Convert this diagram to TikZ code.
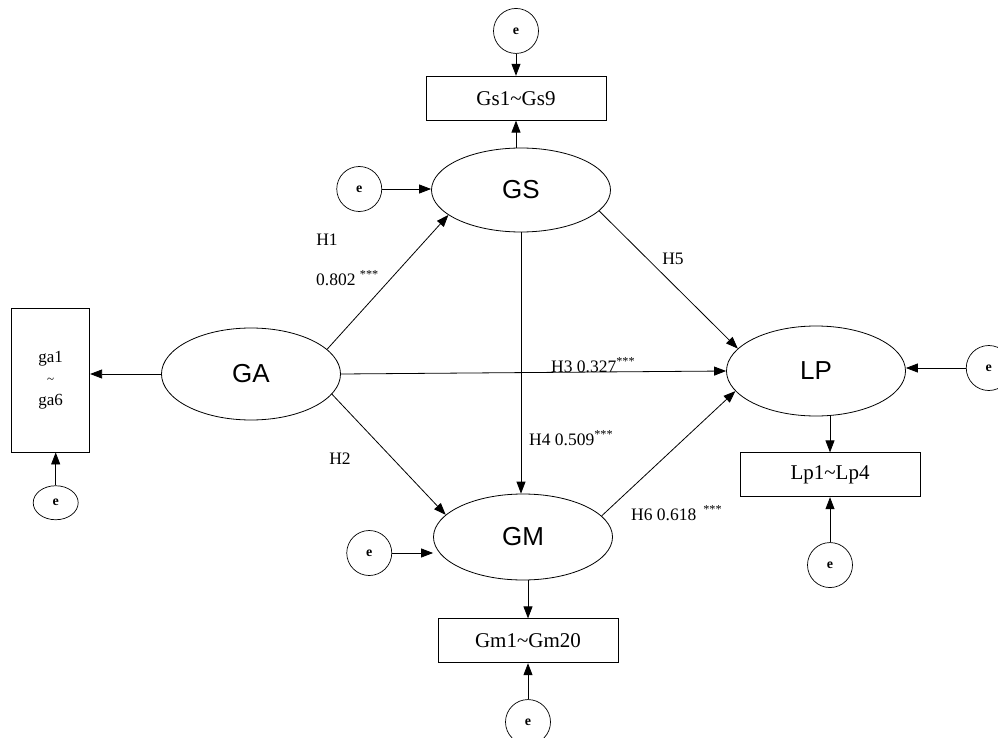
\documentclass[tikz,border=0pt]{standalone}
\usepackage{fontspec}
\setmainfont{Liberation Serif}
\newfontfamily\latentfont{Liberation Sans}
\usetikzlibrary{arrows.meta, positioning, shapes.geometric}
\tikzstyle{box} = [draw, rectangle, line width=0.8pt, minimum width=180pt, minimum height=44pt, inner sep=2pt, font=\fontsize{21}{24}\selectfont]
\tikzstyle{latent} = [draw, ellipse, line width=0.8pt, minimum width=179pt, minimum height=88pt, inner sep=0pt, font=\latentfont\fontsize{26}{30}\selectfont]
\tikzstyle{resid} = [draw, circle, line width=0.7pt, minimum size=45pt, inner sep=0pt, font=\bfseries\fontsize{14}{16}\selectfont]
\tikzstyle{coef} = [inner sep=0pt, font=\fontsize{17.5}{20}\selectfont]
\tikzstyle{link} = [-{Triangle[length=12pt, width=9pt]}, line width=0.8pt]

\begin{document}
\begin{tikzpicture}[x=1pt, y=-1pt]
    \useasboundingbox (0,0) rectangle (998,738);

    \node (GA) [latent, minimum height=92pt] at (251,374) {GA};
    \node (GS) [latent, minimum height=84pt] at (521,190) {GS};
    \node (GM) [latent, minimum height=86pt] at (523,537) {GM};
    \node (LP) [latent, minimum height=90pt] at (816,371) {LP};

    \node (ga box) [box, minimum width=78pt, minimum height=144pt, align=center, font=\fontsize{17}{21.5}\selectfont, left=71pt of GA, yshift=-6pt] {ga1\\{\fontsize{13}{14}\selectfont\textasciitilde}\\ga6};
    \node (gs box) [box, above=27pt of GS, xshift=-5pt] {Gs1\textasciitilde Gs9};
    \node (gm box) [box, below=38pt of GM, xshift=5pt] {Gm1\textasciitilde Gm20};
    \node (lp box) [box, below=36pt of LP, xshift=14pt] {Lp1\textasciitilde Lp4};

    % Errors.
    \node (ga e) [resid, ellipse, minimum width=45pt, minimum height=34pt, below=33pt of ga box, xshift=5pt] {e};
    \node (gs e) [resid, left=49pt of GS, yshift=1pt] {e};
    \node (gs box e) [resid, above=22pt of gs box] {e};
    \node (gm e) [resid, left=41pt of GM, yshift=-16pt] {e};
    \node (gm box e) [resid, below=36pt of gm box] {e};
    \node (lp e) [resid, right=60pt of LP, yshift=3pt] {e};
    \node (lp box e) [resid, below=45pt of lp box] {e};

    % Measurement arrows.
    \draw [link] (GA.west) -- (GA.west -| ga box.east);
    \draw [link] (ga e) -- (ga e |- ga box.south);
    \draw [link] (GS.north -| gs box) -- (gs box);
    \draw [link] (gs box e) -- (gs box);
    \draw [link] (GM.south -| gm box) -- (gm box);
    \draw [link] (gm box e) -- (gm box);
    \draw [link] (LP.south -| lp box) -- (lp box);
    \draw [link] (lp box e) -- (lp box);
    \draw [link] (gs e) -- (gs e -| GS.west);
    \draw [link] (gm e) -- (gm e -| GM.west);
    \draw [link] (lp e) -- (lp e -| LP.east);

    % Paths.
    \draw [link] (GA.18) -- (GS.199);
    \draw [link] (GA.-14) -- (GM.164);
    \draw [link] (GA.east) -- (LP.west);
    \draw [link] (GS.south) -- (GS.south |- GM.north);
    \draw [link] (GS.-15) -- (LP.164);
    \draw [link] (GM.15) -- (LP.194);

    % Labels.
    \node (h1) [coef] at (327,240) {H1};
    \node (h1 v) [coef, anchor=west] at (316,278) {0.802 \textsuperscript{***}};
    \node (h2) [coef] at (340,459) {H2};
    \node (h3) [coef, anchor=west] at (551,365) {H3 0.327\textsuperscript{***}};
    \node (h4) [coef, anchor=west] at (529,438) {H4 0.509\textsuperscript{***}};
    \node (h5) [coef] at (673,259) {H5};
    \node (h6) [coef, anchor=west] at (631,513) {H6 0.618\hspace{7pt}\textsuperscript{***}};
\end{tikzpicture}
\end{document}
